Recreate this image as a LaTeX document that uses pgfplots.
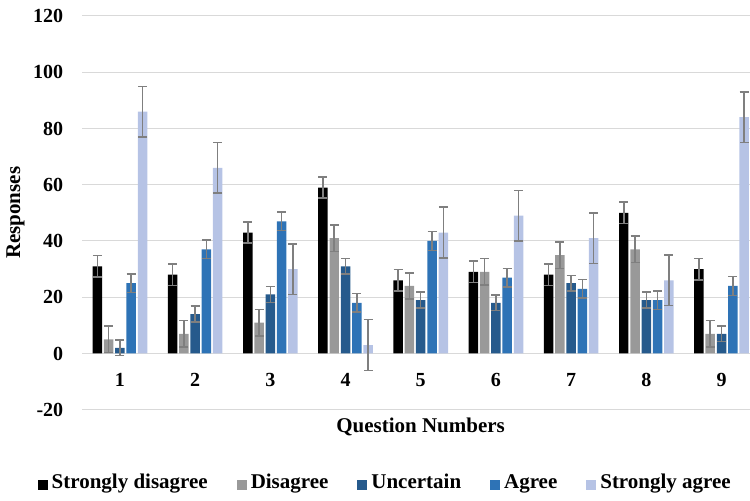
\documentclass[border=0pt]{standalone}
\usepackage{pgfplots}
\pgfplotsset{compat=1.18}
\usepackage{fontspec}
\setmainfont{Liberation Serif}
\definecolor{cSD}{HTML}{000000}
\definecolor{cD}{HTML}{999999}
\definecolor{cU}{HTML}{265A8C}
\definecolor{cA}{HTML}{2E73B6}
\definecolor{cSA}{HTML}{B6C3E5}
\definecolor{gridgray}{HTML}{D9D9D9}
\definecolor{errgray}{HTML}{7F7F7F}
\begin{document}
\begin{tikzpicture}
\begin{axis}[
  name=ax,
  scale only axis,
  width=667.6pt, height=394pt,
  xmin=0.5, xmax=9.372,
  ymin=-20, ymax=120,
  ytick={-20,0,20,40,60,80,100,120},
  xtick={1,2,3,4,5,6,7,8,9},
  ymajorgrids,
  grid style={draw=gridgray, line width=1pt},
  axis line style={draw=none},
  major tick length=0pt,
  ybar=1.8pt, bar width=9.5pt,
  font=\bfseries\fontsize{21}{25}\selectfont,
  /pgf/number format/assume math mode=true,
  yticklabel style={anchor=east, inner sep=0pt, xshift=-19pt, font=\bfseries\fontsize{20}{24}\selectfont},
  xticklabel style={anchor=center, inner sep=0pt, yshift=30pt, font=\bfseries\fontsize{20}{24}\selectfont},
  xlabel={Question Numbers},
  xlabel style={at={(axis description cs:0.507,0)}, anchor=center, yshift=-17pt, inner sep=0pt},
  ylabel={Responses},
  ylabel style={at={(axis description cs:0,0.5)}, anchor=center, yshift=67pt, inner sep=0pt},
  legend columns=5,
  legend style={draw=none, fill=none, at={(axis description cs:0.454,-0.195)}, anchor=center,
    font=\bfseries\fontsize{21}{25}\selectfont,
    nodes={text depth=0.25em, text height=0.7em},
    /tikz/every even column/.append style={column sep=27pt},
    /tikz/every odd column/.append style={column sep=2pt}},
  legend image code/.code={\fill[#1, draw=none] (0pt,-3pt) rectangle (10pt,7pt);},
  error bars/y dir=both, error bars/y explicit,
  error bars/error bar style={errgray, line width=1.5pt},
  error bars/error mark options={errgray, rotate=90, mark size=4.5pt, line width=1.5pt},
]
\addplot[fill=cSD, draw=none] coordinates {
 (1,31) +- (0,3.8) (2,28) +- (0,3.8) (3,43) +- (0,3.8) (4,59) +- (0,3.8) (5,26) +- (0,3.8)
 (6,29) +- (0,3.8) (7,28) +- (0,3.8) (8,50) +- (0,3.8) (9,30) +- (0,3.8)};
\addplot[fill=cD, draw=none] coordinates {
 (1,5) +- (0,4.7) (2,7) +- (0,4.7) (3,11) +- (0,4.7) (4,41) +- (0,4.7) (5,24) +- (0,4.7)
 (6,29) +- (0,4.7) (7,35) +- (0,4.7) (8,37) +- (0,4.7) (9,7) +- (0,4.7)};
\addplot[fill=cU, draw=none] coordinates {
 (1,2) +- (0,2.8) (2,14) +- (0,2.8) (3,21) +- (0,2.8) (4,31) +- (0,2.8) (5,19) +- (0,2.8)
 (6,18) +- (0,2.8) (7,25) +- (0,2.8) (8,19) +- (0,2.8) (9,7) +- (0,2.8)};
\addplot[fill=cA, draw=none] coordinates {
 (1,25) +- (0,3.3) (2,37) +- (0,3.3) (3,47) +- (0,3.3) (4,18) +- (0,3.3) (5,40) +- (0,3.3)
 (6,27) +- (0,3.3) (7,23) +- (0,3.3) (8,19) +- (0,3.3) (9,24) +- (0,3.3)};
\addplot[fill=cSA, draw=none] coordinates {
 (1,86) +- (0,9) (2,66) +- (0,9) (3,30) +- (0,9) (4,3) +- (0,9) (5,43) +- (0,9)
 (6,49) +- (0,9) (7,41) +- (0,9) (8,26) +- (0,9) (9,84) +- (0,9)};
\legend{Strongly disagree, Disagree, Uncertain, Agree, Strongly agree}
\end{axis}
\path (ax.north west) ++(-82.4pt,16pt) coordinate (tl);
\path (ax.south east) ++(0pt,-91pt) coordinate (br);
\path (tl) rectangle (br);
\end{tikzpicture}
\end{document}
